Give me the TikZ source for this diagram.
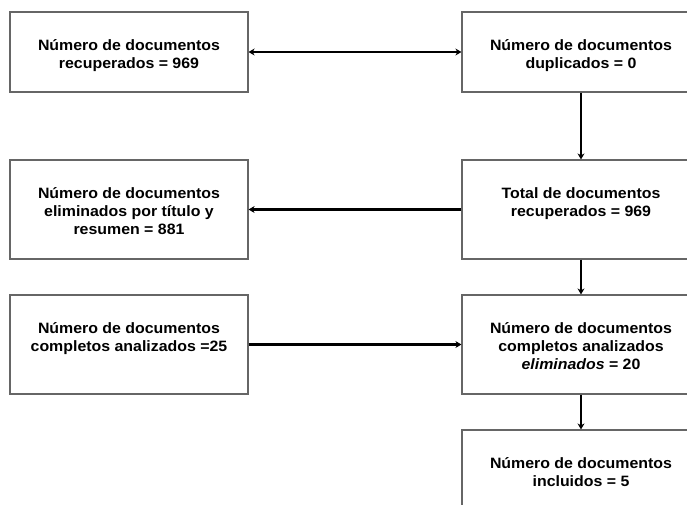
\documentclass[tikz,border=0pt]{standalone}
\usepackage{fontspec}
\setmainfont{Liberation Sans}[FakeStretch=1.06]
\usetikzlibrary{arrows.meta}
\tikzset{
  box/.style={draw=black!60, line width=1.2pt, fill=white, minimum width=238pt, inner sep=0pt},
  txt/.style={align=center, inner sep=0pt, anchor=north, font=\bfseries\fontsize{15}{18}\selectfont},
  arr/.style={line width=2.5pt, -{Stealth[length=6pt,width=7pt]}},
  darr/.style={line width=2.5pt, {Stealth[length=6pt,width=7pt]}-{Stealth[length=6pt,width=7pt]}}
}
\begin{document}
\begin{tikzpicture}[x=1pt,y=-1pt]
\useasboundingbox (0,0) rectangle (687,504);
\clip (0,0) rectangle (687,504);
% boxes
\node[box, minimum height=80pt] (a) at (129,52) {};
\node[box, minimum height=80pt] (b) at (581,52) {};
\node[box, minimum height=99pt] (c) at (129,209.5) {};
\node[box, minimum height=99pt] (d) at (581,209.5) {};
\node[box, minimum height=99pt] (e) at (129,344.5) {};
\node[box, minimum height=99pt] (f) at (581,344.5) {};
\node[box, minimum height=99pt] (g) at (581,479.5) {};
% texts
\node[txt] (ta) at (129,37.4) {\strut N\'umero de documentos\\recuperados = 969};
\node[txt] (tb) at (581,37.4) {\strut N\'umero de documentos\\duplicados = 0};
\node[txt] (tc) at (129,185.4) {\strut N\'umero de documentos\\eliminados por t\'itulo y\\resumen = 881};
\node[txt] (td) at (581,185.4) {\strut Total de documentos\\recuperados = 969};
\node[txt] (te) at (129,320.4) {\strut N\'umero de documentos\\completos analizados =25};
\node[txt] (tf) at (581,320.4) {\strut N\'umero de documentos\\completos analizados\\\textit{eliminados} = 20};
\node[txt] (tg) at (581,455.4) {\strut N\'umero de documentos\\incluidos = 5};
% connectors
\draw[darr] (a.east) -- (b.west);
\draw[arr] (b.south) -- (d.north);
\draw[arr] (d.west) -- (c.east);
\draw[arr] (d.south) -- (f.north);
\draw[arr] (e.east) -- (f.west);
\draw[arr] (f.south) -- (g.north);
\end{tikzpicture}
\end{document}
